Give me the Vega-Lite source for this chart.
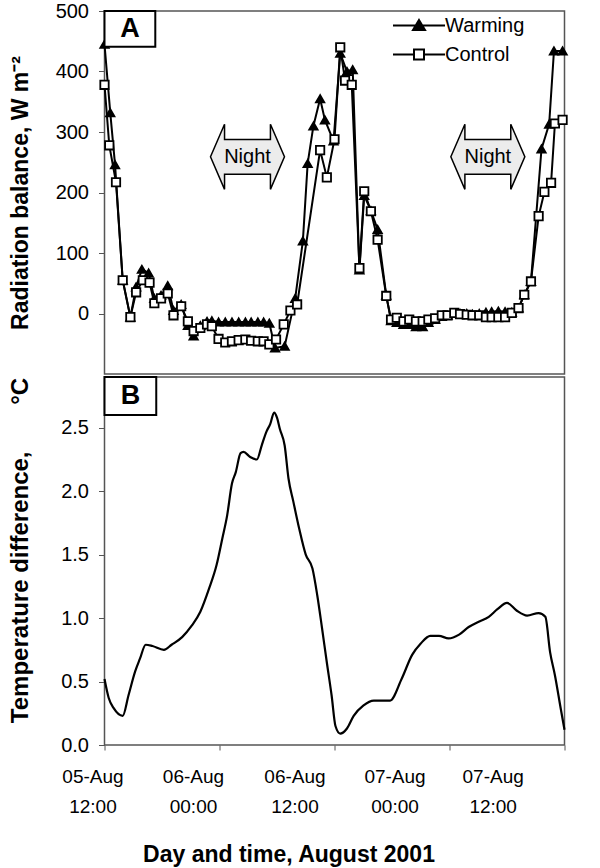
{
  "$schema": "https://vega.github.io/schema/vega-lite/v6.json",
  "background": "white",
  "padding": {"left": 7.5, "top": 0, "right": 5, "bottom": 5},
  "spacing": 0,
  "datasets": {
    "rad": [
      {"series": "Warming", "t": 0.0, "v": 445},
      {"series": "Warming", "t": 0.6, "v": 332},
      {"series": "Warming", "t": 1.1, "v": 246},
      {"series": "Warming", "t": 1.9, "v": 55},
      {"series": "Warming", "t": 2.7, "v": -6},
      {"series": "Warming", "t": 3.3, "v": 44},
      {"series": "Warming", "t": 3.9, "v": 73},
      {"series": "Warming", "t": 4.6, "v": 67},
      {"series": "Warming", "t": 5.2, "v": 25},
      {"series": "Warming", "t": 5.9, "v": 30},
      {"series": "Warming", "t": 6.6, "v": 46},
      {"series": "Warming", "t": 7.2, "v": 5},
      {"series": "Warming", "t": 8.0, "v": 15},
      {"series": "Warming", "t": 8.7, "v": -20},
      {"series": "Warming", "t": 9.3, "v": -37},
      {"series": "Warming", "t": 10.0, "v": -20},
      {"series": "Warming", "t": 10.7, "v": -13},
      {"series": "Warming", "t": 11.2, "v": -12},
      {"series": "Warming", "t": 11.9, "v": -14},
      {"series": "Warming", "t": 12.6, "v": -14},
      {"series": "Warming", "t": 13.3, "v": -14},
      {"series": "Warming", "t": 14.0, "v": -14},
      {"series": "Warming", "t": 14.7, "v": -14},
      {"series": "Warming", "t": 15.3, "v": -14},
      {"series": "Warming", "t": 16.0, "v": -14},
      {"series": "Warming", "t": 16.6, "v": -14},
      {"series": "Warming", "t": 17.2, "v": -16},
      {"series": "Warming", "t": 17.8, "v": -57},
      {"series": "Warming", "t": 18.8, "v": -54},
      {"series": "Warming", "t": 19.9, "v": 25},
      {"series": "Warming", "t": 20.7, "v": 120},
      {"series": "Warming", "t": 21.2, "v": 248},
      {"series": "Warming", "t": 21.8, "v": 310},
      {"series": "Warming", "t": 22.5, "v": 355},
      {"series": "Warming", "t": 23.0, "v": 320},
      {"series": "Warming", "t": 23.9, "v": 285},
      {"series": "Warming", "t": 24.6, "v": 430},
      {"series": "Warming", "t": 25.3, "v": 400},
      {"series": "Warming", "t": 25.9, "v": 403},
      {"series": "Warming", "t": 26.6, "v": 72},
      {"series": "Warming", "t": 27.1, "v": 195},
      {"series": "Warming", "t": 27.8, "v": 170},
      {"series": "Warming", "t": 28.5, "v": 139},
      {"series": "Warming", "t": 29.4, "v": 30},
      {"series": "Warming", "t": 29.9, "v": -12},
      {"series": "Warming", "t": 30.5, "v": -15},
      {"series": "Warming", "t": 31.2, "v": -18},
      {"series": "Warming", "t": 31.8, "v": -18},
      {"series": "Warming", "t": 32.5, "v": -22},
      {"series": "Warming", "t": 33.2, "v": -22},
      {"series": "Warming", "t": 33.8, "v": -15},
      {"series": "Warming", "t": 34.5, "v": -10},
      {"series": "Warming", "t": 35.2, "v": -5},
      {"series": "Warming", "t": 35.8, "v": -3},
      {"series": "Warming", "t": 36.5, "v": 0},
      {"series": "Warming", "t": 37.1, "v": 0},
      {"series": "Warming", "t": 37.8, "v": 0},
      {"series": "Warming", "t": 38.4, "v": -1},
      {"series": "Warming", "t": 39.1, "v": 0},
      {"series": "Warming", "t": 39.8, "v": 2},
      {"series": "Warming", "t": 40.4, "v": 3},
      {"series": "Warming", "t": 41.1, "v": 4},
      {"series": "Warming", "t": 41.8, "v": 3},
      {"series": "Warming", "t": 42.5, "v": 2},
      {"series": "Warming", "t": 43.2, "v": 9},
      {"series": "Warming", "t": 43.8, "v": 31},
      {"series": "Warming", "t": 44.5, "v": 53},
      {"series": "Warming", "t": 45.6, "v": 272},
      {"series": "Warming", "t": 46.4, "v": 313},
      {"series": "Warming", "t": 46.9, "v": 434},
      {"series": "Warming", "t": 47.8, "v": 434},
      {"series": "Control", "t": 0.0, "v": 378},
      {"series": "Control", "t": 0.5, "v": 278},
      {"series": "Control", "t": 1.2, "v": 217},
      {"series": "Control", "t": 1.9, "v": 55},
      {"series": "Control", "t": 2.7, "v": -6},
      {"series": "Control", "t": 3.3, "v": 35},
      {"series": "Control", "t": 4.0, "v": 55},
      {"series": "Control", "t": 4.7, "v": 51},
      {"series": "Control", "t": 5.2, "v": 17},
      {"series": "Control", "t": 5.9, "v": 25},
      {"series": "Control", "t": 6.6, "v": 33},
      {"series": "Control", "t": 7.2, "v": -3},
      {"series": "Control", "t": 8.0, "v": 12},
      {"series": "Control", "t": 8.7, "v": -13},
      {"series": "Control", "t": 9.3, "v": -29},
      {"series": "Control", "t": 10.0, "v": -24},
      {"series": "Control", "t": 10.7, "v": -18},
      {"series": "Control", "t": 11.2, "v": -21},
      {"series": "Control", "t": 11.9, "v": -42},
      {"series": "Control", "t": 12.6, "v": -48},
      {"series": "Control", "t": 13.3, "v": -46},
      {"series": "Control", "t": 14.0, "v": -44},
      {"series": "Control", "t": 14.7, "v": -43},
      {"series": "Control", "t": 15.3, "v": -45},
      {"series": "Control", "t": 16.0, "v": -46},
      {"series": "Control", "t": 16.6, "v": -46},
      {"series": "Control", "t": 17.2, "v": -51},
      {"series": "Control", "t": 17.9, "v": -43},
      {"series": "Control", "t": 18.7, "v": -18},
      {"series": "Control", "t": 19.4, "v": 5},
      {"series": "Control", "t": 20.1, "v": 15},
      {"series": "Control", "t": 22.5, "v": 270},
      {"series": "Control", "t": 23.2, "v": 225},
      {"series": "Control", "t": 24.0, "v": 288},
      {"series": "Control", "t": 24.6, "v": 440},
      {"series": "Control", "t": 25.1, "v": 385},
      {"series": "Control", "t": 25.8, "v": 378},
      {"series": "Control", "t": 26.6, "v": 75},
      {"series": "Control", "t": 27.1, "v": 202},
      {"series": "Control", "t": 27.8, "v": 169},
      {"series": "Control", "t": 28.5, "v": 122},
      {"series": "Control", "t": 29.4, "v": 29},
      {"series": "Control", "t": 29.9, "v": -10},
      {"series": "Control", "t": 30.5, "v": -7},
      {"series": "Control", "t": 31.2, "v": -13},
      {"series": "Control", "t": 31.8, "v": -10},
      {"series": "Control", "t": 32.5, "v": -13},
      {"series": "Control", "t": 33.2, "v": -13},
      {"series": "Control", "t": 33.8, "v": -10},
      {"series": "Control", "t": 34.5, "v": -8},
      {"series": "Control", "t": 35.2, "v": -3},
      {"series": "Control", "t": 35.8, "v": -3},
      {"series": "Control", "t": 36.5, "v": 1},
      {"series": "Control", "t": 37.1, "v": -1},
      {"series": "Control", "t": 37.8, "v": -2},
      {"series": "Control", "t": 38.4, "v": -3},
      {"series": "Control", "t": 39.1, "v": -3},
      {"series": "Control", "t": 39.8, "v": -6},
      {"series": "Control", "t": 40.4, "v": -6},
      {"series": "Control", "t": 41.1, "v": -6},
      {"series": "Control", "t": 41.8, "v": -6},
      {"series": "Control", "t": 42.5, "v": 1},
      {"series": "Control", "t": 43.2, "v": 9},
      {"series": "Control", "t": 43.8, "v": 31},
      {"series": "Control", "t": 44.5, "v": 53},
      {"series": "Control", "t": 45.3, "v": 161},
      {"series": "Control", "t": 45.9, "v": 201},
      {"series": "Control", "t": 46.6, "v": 216},
      {"series": "Control", "t": 47.0, "v": 314},
      {"series": "Control", "t": 47.8, "v": 320}
    ],
    "diff": [
      {"t": 0.0, "d": 0.52}, {"t": 0.44, "d": 0.37}, {"t": 0.96, "d": 0.29}, {"t": 1.9, "d": 0.23},
      {"t": 2.5, "d": 0.39}, {"t": 3.2, "d": 0.58}, {"t": 3.7, "d": 0.68}, {"t": 4.3, "d": 0.79},
      {"t": 5.0, "d": 0.78}, {"t": 6.2, "d": 0.75}, {"t": 7.0, "d": 0.79}, {"t": 8.1, "d": 0.85},
      {"t": 9.1, "d": 0.94}, {"t": 10.0, "d": 1.05}, {"t": 10.9, "d": 1.23}, {"t": 11.7, "d": 1.42},
      {"t": 12.3, "d": 1.63}, {"t": 12.8, "d": 1.81}, {"t": 13.3, "d": 2.06}, {"t": 13.7, "d": 2.15},
      {"t": 14.2, "d": 2.30}, {"t": 14.5, "d": 2.31}, {"t": 15.2, "d": 2.27}, {"t": 15.9, "d": 2.25},
      {"t": 16.4, "d": 2.36}, {"t": 16.9, "d": 2.47}, {"t": 17.3, "d": 2.53}, {"t": 17.7, "d": 2.62},
      {"t": 18.0, "d": 2.58}, {"t": 18.3, "d": 2.49}, {"t": 18.8, "d": 2.36}, {"t": 19.2, "d": 2.10},
      {"t": 19.7, "d": 1.92}, {"t": 20.3, "d": 1.71}, {"t": 21.0, "d": 1.50}, {"t": 21.7, "d": 1.39},
      {"t": 22.2, "d": 1.18}, {"t": 22.7, "d": 0.92}, {"t": 23.2, "d": 0.65}, {"t": 23.7, "d": 0.39},
      {"t": 24.1, "d": 0.15}, {"t": 24.6, "d": 0.09}, {"t": 25.3, "d": 0.13}, {"t": 26.0, "d": 0.23},
      {"t": 27.0, "d": 0.31}, {"t": 28.1, "d": 0.35}, {"t": 29.8, "d": 0.35}, {"t": 31.0, "d": 0.52},
      {"t": 32.1, "d": 0.71}, {"t": 33.0, "d": 0.80}, {"t": 34.0, "d": 0.86}, {"t": 34.9, "d": 0.86},
      {"t": 35.9, "d": 0.84}, {"t": 37.0, "d": 0.87}, {"t": 38.0, "d": 0.93}, {"t": 39.0, "d": 0.97},
      {"t": 40.1, "d": 1.01}, {"t": 41.0, "d": 1.07}, {"t": 42.0, "d": 1.12}, {"t": 43.0, "d": 1.06},
      {"t": 44.1, "d": 1.02}, {"t": 45.3, "d": 1.04}, {"t": 46.0, "d": 1.01}, {"t": 46.5, "d": 0.73},
      {"t": 47.0, "d": 0.55}, {"t": 47.6, "d": 0.29}, {"t": 48.0, "d": 0.12}
    ]
  },
  "vconcat": [
    {
      "width": 460,
      "height": 363,
      "layer": [
        {
          "data": {"name": "rad"},
          "mark": {"type": "line", "color": "black", "strokeWidth": 2},
          "encoding": {
            "x": {"field": "t", "type": "quantitative", "scale": {"domain": [0, 48], "nice": false}, "axis": null},
            "y": {"field": "v", "type": "quantitative", "scale": {"domain": [-100, 500], "nice": false},
              "axis": {"values": [0, 100, 200, 300, 400, 500], "title": "Radiation balance, W m\u207b\u00b2",
                "titleFontSize": 23, "titleFontWeight": "bold", "labelFontSize": 20, "tickSize": 6, "labelPadding": 10, "titleX": -72}},
            "detail": {"field": "series"}
          }
        },
        {
          "data": {"name": "rad"},
          "mark": {"type": "point", "filled": true, "opacity": 1, "stroke": "black", "strokeWidth": 1.8, "size": 70},
          "encoding": {
            "x": {"field": "t", "type": "quantitative"},
            "y": {"field": "v", "type": "quantitative"},
            "fill": {"field": "series", "type": "nominal", "scale": {"domain": ["Warming", "Control"], "range": ["black", "white"]}, "legend": null},
            "shape": {"field": "series", "type": "nominal", "scale": {"domain": ["Warming", "Control"], "range": ["triangle-up", "square"]}, "legend": null}
          }
        },
        {
          "data": {"values": []},
          "mark": {"type": "point", "filled": true, "opacity": 1, "fill": "black", "stroke": "black", "strokeWidth": 2},
          "encoding": {
            "shape": {"datum": "Warming", "type": "nominal",
              "scale": {"domain": ["Warming"], "range": ["M -5.2 0 L 5.2 0 M 0 -1.1 L 1.2 0.9 L -1.2 0.9 Z"]},
              "legend": {"orient": "none", "legendX": 304.5, "legendY": 4.5, "title": null, "padding": 0,
                "symbolSize": 100, "symbolStrokeWidth": 2,
                "labelFontSize": 20, "labelOffset": 16}}
          }
        },
        {
          "data": {"values": []},
          "mark": {"type": "point", "filled": true, "opacity": 1, "fill": "white", "stroke": "black", "strokeWidth": 2},
          "encoding": {
            "shape": {"datum": "Control", "type": "nominal",
              "scale": {"domain": ["Control"], "range": ["M -5.2 0 L -1 0 M 1 0 L 5.2 0 M -1 -1 L 1 -1 L 1 1 L -1 1 Z"]},
              "legend": {"orient": "none", "legendX": 304.5, "legendY": 33.5, "title": null, "padding": 0,
                "symbolSize": 100, "symbolStrokeWidth": 2,
                "labelFontSize": 20, "labelOffset": 16}}
          }
        },
        {
          "data": {"values": [{}]},
          "mark": {"type": "rect", "fill": "white", "stroke": "black", "strokeWidth": 2},
          "encoding": {
            "x": {"datum": 0, "type": "quantitative"}, "x2": {"datum": 5.3},
            "y": {"datum": 500, "type": "quantitative"}, "y2": {"datum": 441}
          }
        },
        {
          "data": {"values": [{}]},
          "mark": {"type": "text", "text": "A", "fontSize": 27, "fontWeight": "bold", "align": "center", "baseline": "middle"},
          "encoding": {"x": {"datum": 2.65, "type": "quantitative"}, "y": {"datum": 471, "type": "quantitative"}}
        },
        {
          "data": {"values": [{}]},
          "mark": {"type": "point", "filled": true, "opacity": 1, "fill": "#ececec", "stroke": "black", "strokeWidth": 1.5, "size": 5476,
            "shape": "M -1 0 L -0.62 -0.88 L -0.62 -0.47 L 0.62 -0.47 L 0.62 -0.88 L 1 0 L 0.62 0.88 L 0.62 0.47 L -0.62 0.47 L -0.62 0.88 Z"},
          "encoding": {"x": {"datum": 14.92, "type": "quantitative"}, "y": {"datum": 259, "type": "quantitative"}}
        },
        {
          "data": {"values": [{}]},
          "mark": {"type": "point", "filled": true, "opacity": 1, "fill": "#ececec", "stroke": "black", "strokeWidth": 1.5, "size": 5476,
            "shape": "M -1 0 L -0.62 -0.88 L -0.62 -0.47 L 0.62 -0.47 L 0.62 -0.88 L 1 0 L 0.62 0.88 L 0.62 0.47 L -0.62 0.47 L -0.62 0.88 Z"},
          "encoding": {"x": {"datum": 40.0, "type": "quantitative"}, "y": {"datum": 259, "type": "quantitative"}}
        },
        {
          "data": {"values": [{}]},
          "mark": {"type": "text", "text": "Night", "fontSize": 20, "align": "center", "baseline": "middle"},
          "encoding": {"x": {"datum": 14.92, "type": "quantitative"}, "y": {"datum": 259, "type": "quantitative"}}
        },
        {
          "data": {"values": [{}]},
          "mark": {"type": "text", "text": "Night", "fontSize": 20, "align": "center", "baseline": "middle"},
          "encoding": {"x": {"datum": 40.0, "type": "quantitative"}, "y": {"datum": 259, "type": "quantitative"}}
        }
      ],
      "resolve": {"scale": {"shape": "independent"}}
    },
    {
      "width": 460,
      "height": 368,
      "layer": [
        {
          "data": {"name": "diff"},
          "mark": {"type": "line", "color": "black", "strokeWidth": 2.2, "interpolate": "monotone"},
          "encoding": {
            "x": {"field": "t", "type": "quantitative", "scale": {"domain": [0, 48], "nice": false},
              "axis": {"orient": "bottom", "values": [0, 12, 24, 36, 48], "labels": false, "tickSize": 5, "title": null}},
            "y": {"field": "d", "type": "quantitative", "scale": {"domain": [0, 2.9], "nice": false},
              "axis": {"orient": "left", "values": [0, 0.5, 1, 1.5, 2, 2.5], "format": ".1f",
                "title": "Temperature difference,\u00a0\u00a0\u00a0\u00a0\u00a0\u00a0\u00a0\u00b0C",
                "titleFontSize": 24, "titleFontWeight": "bold", "labelFontSize": 20, "tickSize": 6, "labelPadding": 10, "titleX": -72, "titleY": 173}}
          }
        },
        {
          "data": {"values": [{}]},
          "mark": {"type": "rect", "fill": "white", "stroke": "black", "strokeWidth": 2},
          "encoding": {
            "x": {"datum": 0, "type": "quantitative",
              "axis": {"orient": "bottom", "values": [0.83, 11.32, 21.91, 32.35, 42.59], "labelOffset": -20, "ticks": false, "tickSize": 0, "domain": false,
                "labelExpr": "datum.value < 5 ? ['05-Aug', '12:00'] : datum.value < 15 ? ['06-Aug', '00:00'] : datum.value < 25 ? ['06-Aug', '12:00'] : datum.value < 35 ? ['07-Aug', '00:00'] : ['07-Aug', '12:00']",
                "labelFontSize": 19, "labelLineHeight": 30, "labelPadding": 22, "labelFlush": false, "labelOverlap": false, "labelBound": false,
                "title": "Day and time, August 2001", "titleFontSize": 23, "titleFontWeight": "bold", "titlePadding": 27, "titleX": 184}},
            "x2": {"datum": 5.4},
            "y": {"datum": 2.9, "type": "quantitative", "axis": null}, "y2": {"datum": 2.6}
          }
        },
        {
          "data": {"values": [{}]},
          "mark": {"type": "text", "text": "B", "fontSize": 27, "fontWeight": "bold", "align": "center", "baseline": "middle"},
          "encoding": {"x": {"datum": 2.7, "type": "quantitative", "axis": null}, "y": {"datum": 2.75, "type": "quantitative", "axis": null}}
        }
      ],
      "resolve": {"axis": {"x": "independent", "y": "independent"}}
    }
  ],
  "config": {
    "font": "Liberation Sans",
    "view": {"stroke": "#555555", "strokeWidth": 1.5},
    "axis": {"grid": false, "domain": false, "labelColor": "black", "titleColor": "black", "tickColor": "#555555", "labelFont": "Liberation Sans", "titleFont": "Liberation Sans"},
    "legend": {"labelFont": "Liberation Sans", "labelColor": "black"},
    "text": {"font": "Liberation Sans", "color": "black"}
  }
}
